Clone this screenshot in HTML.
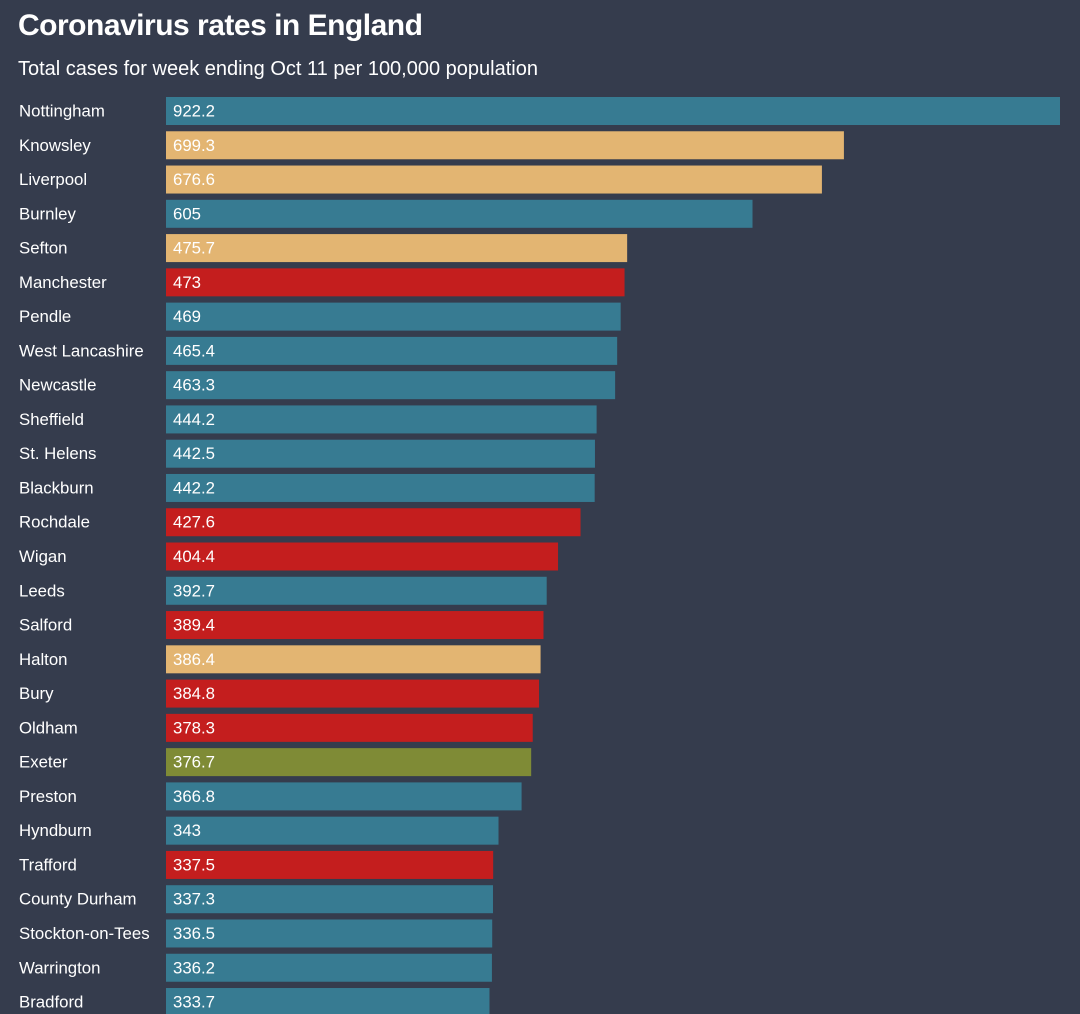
<!DOCTYPE html>
<html><head><meta charset="utf-8"><style>
body{margin:0;width:1080px;height:1014px;overflow:hidden;background:#353c4d;font-family:"Liberation Sans",sans-serif;color:#fff}
#title{position:absolute;left:18px;top:9px;font-size:30px;font-weight:bold;letter-spacing:-0.5px}
#sub{position:absolute;left:18px;top:58px;font-size:20px}
svg{position:absolute;left:0;top:0}
</style></head><body>
<div id="title">Coronavirus rates in England</div>
<div id="sub">Total cases for week ending Oct 11 per 100,000 population</div>
<svg id="chart" width="1080" height="1014"></svg>
<script>
const categories=["Nottingham","Knowsley","Liverpool","Burnley","Sefton","Manchester","Pendle","West Lancashire","Newcastle","Sheffield","St. Helens","Blackburn","Rochdale","Wigan","Leeds","Salford","Halton","Bury","Oldham","Exeter","Preston","Hyndburn","Trafford","County Durham","Stockton-on-Tees","Warrington","Bradford"];
const values=[922.2,699.3,676.6,605,475.7,473,469,465.4,463.3,444.2,442.5,442.2,427.6,404.4,392.7,389.4,386.4,384.8,378.3,376.7,366.8,343,337.5,337.3,336.5,336.2,333.7];
const groups=["t","o","o","t","o","r","t","t","t","t","t","t","r","r","t","r","o","r","r","g","t","t","r","t","t","t","t"];
const colors={t:"#377b92",o:"#e3b572",r:"#c41e1e",g:"#7f8b36"};
const x0=166,xMax=922.2,xW=894,y0=97,step=34.27,bh=28;
const xs=v=>v/xMax*xW;
const ys=i=>y0+i*step;
const svg=document.getElementById('chart');const NS="http://www.w3.org/2000/svg";
categories.forEach((c,i)=>{
 const y=ys(i);
 const l=document.createElementNS(NS,'text');
 
 
 l.setAttribute('x',19);l.setAttribute('y',y+bh/2+5.5);l.setAttribute('fill','#fff');l.setAttribute('font-size','16.8');l.textContent=c;svg.appendChild(l);
 const r=document.createElementNS(NS,'rect');
 
 
 r.setAttribute('x',x0);r.setAttribute('y',y);r.setAttribute('width',xs(values[i]));r.setAttribute('height',bh);r.setAttribute('fill',colors[groups[i]]);svg.appendChild(r);
 const v=document.createElementNS(NS,'text');
 
 
 v.setAttribute('x',x0+7);v.setAttribute('y',y+bh/2+5.5);v.setAttribute('fill','#fff');v.setAttribute('font-size','16.8');v.textContent=values[i];svg.appendChild(v);
});
</script>
</body></html>
